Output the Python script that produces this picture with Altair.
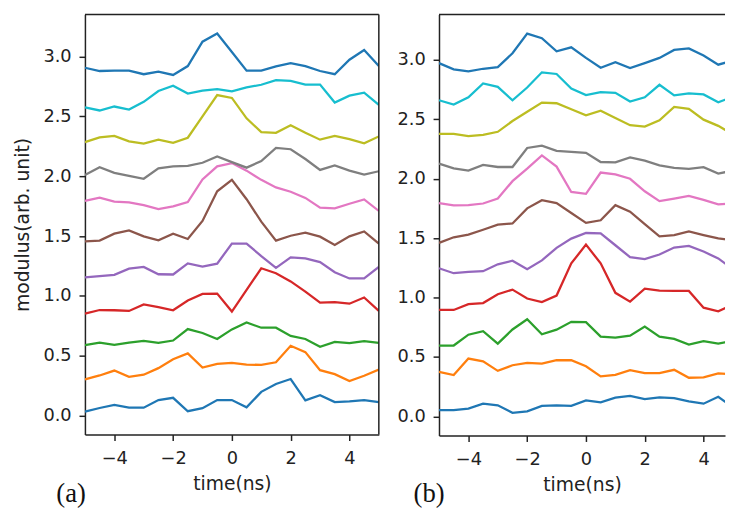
import altair as alt
import pandas as pd

# time axis (ns), 0.5 ns sampling
time_ns = [-5.0, -4.5, -4.0, -3.5, -3.0, -2.5, -2.0, -1.5, -1.0, -0.5, 0.0,
           0.5, 1.0, 1.5, 2.0, 2.5, 3.0, 3.5, 4.0, 4.5, 5.0]

# panel (a) traces, bottom to top
a0 = [0.033, 0.063, 0.088, 0.066, 0.066, 0.129, 0.148, 0.036, 0.061, 0.129, 0.129, 0.069, 0.198, 0.264, 0.305, 0.127, 0.170, 0.113, 0.118, 0.129, 0.113]
a1 = [0.303, 0.335, 0.376, 0.324, 0.341, 0.396, 0.470, 0.519, 0.401, 0.432, 0.440, 0.426, 0.423, 0.445, 0.583, 0.530, 0.379, 0.346, 0.289, 0.333, 0.385]
a2 = [0.588, 0.610, 0.591, 0.610, 0.624, 0.608, 0.627, 0.723, 0.690, 0.640, 0.720, 0.778, 0.734, 0.734, 0.665, 0.640, 0.575, 0.616, 0.605, 0.621, 0.608]
a3 = [0.852, 0.882, 0.880, 0.874, 0.929, 0.907, 0.880, 0.962, 1.017, 1.019, 0.869, 1.050, 1.231, 1.190, 1.121, 1.036, 0.943, 0.948, 0.935, 0.987, 0.874]
a4 = [1.154, 1.165, 1.176, 1.228, 1.242, 1.181, 1.179, 1.272, 1.245, 1.270, 1.437, 1.437, 1.333, 1.234, 1.322, 1.314, 1.283, 1.198, 1.146, 1.146, 1.242]
a5 = [1.456, 1.462, 1.520, 1.547, 1.498, 1.465, 1.520, 1.476, 1.627, 1.874, 1.970, 1.808, 1.621, 1.462, 1.503, 1.528, 1.495, 1.426, 1.498, 1.539, 1.437]
a6 = [1.794, 1.822, 1.789, 1.781, 1.759, 1.726, 1.748, 1.784, 1.973, 2.083, 2.110, 2.047, 1.970, 1.907, 1.871, 1.819, 1.737, 1.732, 1.770, 1.806, 1.710]
a7 = [2.011, 2.075, 2.028, 2.003, 1.979, 2.066, 2.083, 2.086, 2.113, 2.165, 2.118, 2.072, 2.127, 2.237, 2.226, 2.144, 2.053, 2.091, 2.047, 2.014, 2.042]
a8 = [2.286, 2.325, 2.338, 2.292, 2.273, 2.306, 2.279, 2.322, 2.501, 2.679, 2.655, 2.484, 2.369, 2.363, 2.427, 2.363, 2.306, 2.338, 2.311, 2.275, 2.333]
a9 = [2.575, 2.550, 2.583, 2.558, 2.622, 2.713, 2.757, 2.691, 2.716, 2.729, 2.710, 2.743, 2.765, 2.803, 2.798, 2.767, 2.767, 2.616, 2.674, 2.699, 2.597]
a10 = [2.907, 2.880, 2.883, 2.883, 2.853, 2.875, 2.847, 2.921, 3.125, 3.193, 3.039, 2.883, 2.883, 2.919, 2.946, 2.921, 2.880, 2.853, 2.974, 3.056, 2.921]

# panel (b) traces, bottom to top
b0 = [0.053, 0.053, 0.066, 0.108, 0.094, 0.031, 0.044, 0.089, 0.094, 0.089, 0.136, 0.119, 0.158, 0.174, 0.147, 0.161, 0.155, 0.127, 0.108, 0.166, 0.078]
b1 = [0.376, 0.349, 0.487, 0.464, 0.384, 0.431, 0.451, 0.445, 0.473, 0.473, 0.423, 0.337, 0.351, 0.390, 0.365, 0.365, 0.393, 0.326, 0.329, 0.362, 0.354]
b2 = [0.597, 0.597, 0.688, 0.718, 0.613, 0.732, 0.818, 0.691, 0.730, 0.796, 0.793, 0.672, 0.663, 0.680, 0.757, 0.672, 0.652, 0.605, 0.633, 0.613, 0.636]
b3 = [0.896, 0.896, 0.945, 0.954, 1.028, 1.067, 0.992, 0.962, 1.017, 1.288, 1.445, 1.288, 1.040, 0.966, 1.075, 1.058, 1.056, 1.056, 0.915, 0.884, 0.942]
b4 = [1.247, 1.205, 1.216, 1.222, 1.280, 1.310, 1.238, 1.313, 1.418, 1.496, 1.543, 1.540, 1.440, 1.340, 1.324, 1.362, 1.421, 1.435, 1.387, 1.329, 1.238]
b5 = [1.460, 1.507, 1.529, 1.570, 1.614, 1.623, 1.750, 1.819, 1.794, 1.711, 1.628, 1.650, 1.777, 1.722, 1.617, 1.515, 1.526, 1.556, 1.526, 1.498, 1.482]
b6 = [1.794, 1.775, 1.778, 1.791, 1.833, 1.979, 2.084, 2.195, 2.101, 1.888, 1.872, 2.051, 2.035, 1.999, 1.894, 1.811, 1.833, 1.855, 1.822, 1.784, 1.792]
b7 = [2.126, 2.087, 2.068, 2.115, 2.098, 2.098, 2.258, 2.277, 2.233, 2.225, 2.217, 2.140, 2.137, 2.179, 2.151, 2.112, 2.090, 2.082, 2.096, 2.043, 2.068]
b8 = [2.377, 2.377, 2.358, 2.369, 2.394, 2.485, 2.562, 2.640, 2.634, 2.584, 2.532, 2.571, 2.510, 2.449, 2.438, 2.490, 2.603, 2.587, 2.496, 2.444, 2.372]
b9 = [2.659, 2.623, 2.684, 2.800, 2.772, 2.659, 2.766, 2.894, 2.880, 2.758, 2.703, 2.728, 2.722, 2.648, 2.684, 2.789, 2.700, 2.717, 2.708, 2.642, 2.689]
b10 = [2.971, 2.919, 2.902, 2.924, 2.938, 3.054, 3.220, 3.181, 3.071, 3.104, 3.015, 2.932, 2.979, 2.930, 2.971, 3.015, 3.082, 3.095, 3.035, 2.958, 2.993]

x_ticks = [-4, -2, 0, 2, 4]
y_ticks = [0.0, 0.5, 1.0, 1.5, 2.0, 2.5, 3.0]
series_names = ["s00", "s01", "s02", "s03", "s04", "s05", "s06", "s07", "s08", "s09", "s10"]
colors = ["#1f77b4", "#ff7f0e", "#2ca02c", "#d62728", "#9467bd", "#8c564b",
          "#e377c2", "#7f7f7f", "#bcbd22", "#17becf", "#1f77b4"]

INK = "#222222"


def to_frame(series_list):
    rows = []
    for name, vals in zip(series_names, series_list):
        for t, v in zip(time_ns, vals):
            rows.append({"t": t, "v": v, "s": name})
    return pd.DataFrame(rows)


def panel(series_list, width, height, xdom, ydom, label, label_dx, y_title, right_border):
    df = to_frame(series_list)
    if y_title:
        y_axis = alt.Axis(title=y_title, values=y_ticks, format=".1f")
    else:
        y_axis = alt.Axis(title=None, values=y_ticks, format=".1f")
    lines = alt.Chart(df).mark_line(strokeWidth=2.3, clip=True).encode(
        x=alt.X("t:Q", scale=alt.Scale(domain=xdom, nice=False, zero=False),
                axis=alt.Axis(values=x_ticks, title="time(ns)", format="d")),
        y=alt.Y("v:Q", scale=alt.Scale(domain=ydom, nice=False, zero=False),
                axis=y_axis),
        color=alt.Color("s:N", scale=alt.Scale(domain=series_names, range=colors),
                        legend=None),
        order=alt.Order("t:Q"),
    )
    top = alt.Chart(pd.DataFrame({"k": [0]})).mark_rule(
        color=INK, strokeWidth=1.5).encode(
        x=alt.value(0), x2=alt.value(width), y=alt.value(0))
    layers = [lines, top]
    if right_border:
        rb = alt.Chart(pd.DataFrame({"k": [0]})).mark_rule(
            color=INK, strokeWidth=1.5).encode(
            x=alt.value(width), y=alt.value(0), y2=alt.value(height))
        layers.append(rb)
    txt = alt.Chart(pd.DataFrame({"label": [label]})).mark_text(
        font="Liberation Serif", fontSize=27, align="center",
        baseline="alphabetic", color="#111111").encode(
        x=alt.value(label_dx), y=alt.value(494), text="label:N")
    layers.append(txt)
    return alt.layer(*layers).properties(width=width, height=height)


pa = panel([a0, a1, a2, a3, a4, a5, a6, a7, a8, a9, a10], 298, 426,
           [-5, 5], [-0.159, 3.353], "(a)", -14, "modulus(arb. unit)", True)
pb = panel([b0, b1, b2, b3, b4, b5, b6, b7, b8, b9, b10], 290, 427,
           [-5, 4.73], [-0.160, 3.381], "(b)", -10, None, False)

chart = alt.hconcat(pa, pb, spacing=17).properties(
    padding={"left": 5, "top": 2, "right": 0, "bottom": 0}
).configure_view(strokeWidth=0).configure_axis(
    grid=False,
    domainColor=INK, domainWidth=1.5,
    tickColor=INK, tickWidth=1.5, tickSize=6,
    labelFont="DejaVu Sans", labelFontSize=18, labelColor=INK,
    titleFont="DejaVu Sans", titleFontSize=19, titleFontWeight="normal",
    titleColor=INK,
).configure_axisX(labelPadding=9, titlePadding=8).configure_axisY(
    labelPadding=8, titlePadding=11)

chart.save("out.html", embed_options={"renderer": "svg", "actions": False})
